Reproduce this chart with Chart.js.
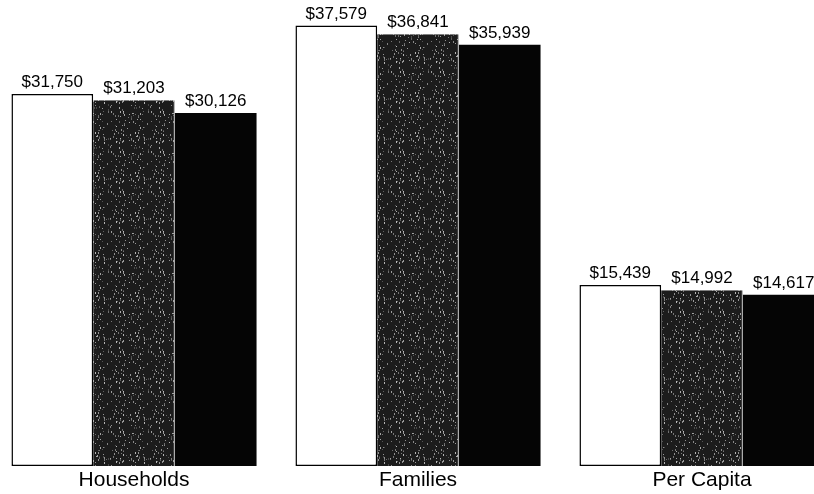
<!DOCTYPE html>
<html>
<head>
<meta charset="utf-8">
<title>Median Income</title>
<script src="https://cdn.jsdelivr.net/npm/chart.js@4/dist/chart.umd.min.js"></script>
<style>
  html, body { margin: 0; padding: 0; background: #fff; overflow: hidden; width: 814px; height: 494px; }
  #wrap { position: absolute; left: -8px; top: 0; width: 852px; height: 494px; }
</style>
</head>
<body>
<div id="wrap"><canvas id="chart" width="852" height="494"></canvas></div>
<script>
// Income categories and the three series shown in each group
const categories = ['Households', 'Families', 'Per Capita'];
const seriesA = [31750, 37579, 15439];
const seriesB = [31203, 36841, 14992];
const seriesC = [30126, 35939, 14617];

// Speckled dark fill for the middle series (deterministic texture)
function speckle() {
  const c = document.createElement('canvas');
  c.width = 40; c.height = 40;
  const g = c.getContext('2d');
  g.fillStyle = '#1c1c1c';
  g.fillRect(0, 0, 40, 40);
  let s = 12345;
  const next = () => { s = (s * 1103515245 + 12345) % 2147483648; return s / 2147483648; };
  for (let i = 0; i < 110; i++) {
    const x = Math.floor(next() * 40), y = Math.floor(next() * 40);
    const v = 70 + Math.floor(next() * 120);
    g.fillStyle = 'rgb(' + v + ',' + v + ',' + v + ')';
    g.fillRect(x, y, 1, 1 + Math.floor(next() * 2));
  }
  return g.createPattern(c, 'repeat');
}

const fmt = v => '$' + v.toLocaleString('en-US');

const valueLabels = {
  id: 'valueLabels',
  afterDatasetsDraw(chart) {
    const ctx = chart.ctx;
    ctx.save();
    ctx.font = '17px "Liberation Sans", Arial, sans-serif';
    ctx.fillStyle = '#000';
    ctx.textAlign = 'center';
    ctx.textBaseline = 'bottom';
    chart.data.datasets.forEach((ds, i) => {
      chart.getDatasetMeta(i).data.forEach((el, j) => {
        ctx.fillText(fmt(ds.data[j]), el.x, el.y - 3);
      });
    });
    ctx.restore();
  }
};

new Chart(document.getElementById('chart'), {
  type: 'bar',
  data: {
    labels: categories,
    datasets: [
      { data: seriesA, backgroundColor: '#ffffff', borderColor: '#000000', borderWidth: 1.5, borderSkipped: false },
      { data: seriesB, backgroundColor: speckle(), borderColor: '#9a9a9a', borderWidth: { right: 1 }, borderSkipped: false },
      { data: seriesC, backgroundColor: '#050505', borderWidth: 0 }
    ]
  },
  options: {
    responsive: false,
    animation: false,
    devicePixelRatio: 1,
    layout: { padding: 0 },
    datasets: { bar: { categoryPercentage: 0.863, barPercentage: 1 } },
    plugins: { legend: { display: false }, tooltip: { enabled: false }, title: { display: false } },
    scales: {
      x: {
        grid: { display: false, drawTicks: false },
        border: { display: false },
        ticks: { color: '#000', padding: 2, font: { family: '"Liberation Sans", Arial, sans-serif', size: 21 } },
        afterFit(s) { s.height = 28; }
      },
      y: {
        display: false,
        min: 0,
        max: 39760
      }
    }
  },
  plugins: [valueLabels]
});
</script>
</body>
</html>
